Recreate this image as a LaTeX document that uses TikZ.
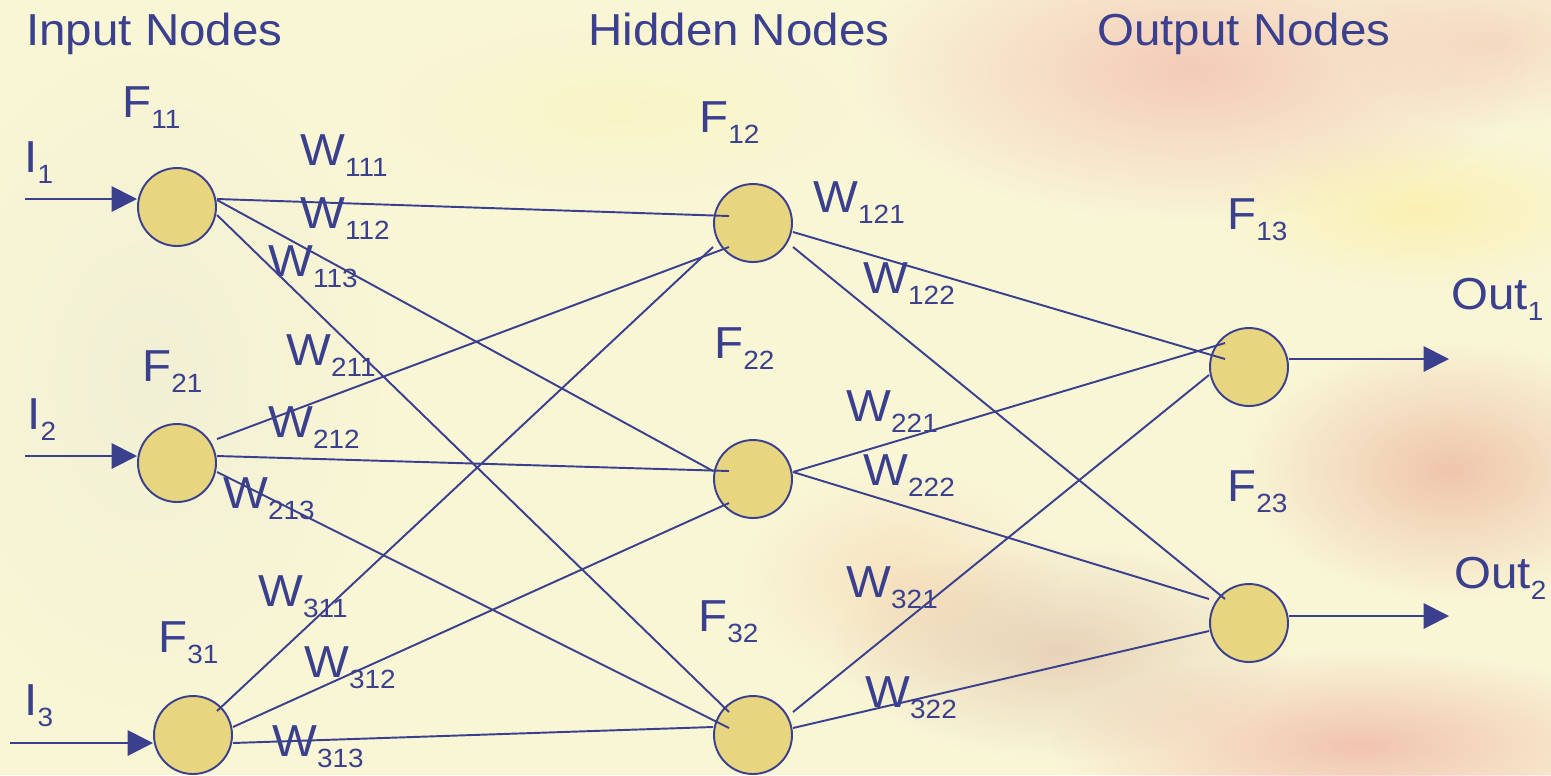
\documentclass[tikz,border=0pt]{standalone}
\usepackage{fontspec}
\setmainfont[FakeStretch=1.06]{Liberation Sans}
\usetikzlibrary{arrows.meta,fadings}

\definecolor{ink}{RGB}{58,64,142}
\definecolor{cellfill}{RGB}{232,213,127}
\definecolor{paper}{RGB}{249,246,214}

\tikzfading[name=softedge, inner color=transparent!0, outer color=transparent!100]

% letter with a lowered index, as in W_{111}
\newcommand{\wlab}[2]{#1\raisebox{-6.6pt}{\fontsize{15pt}{15pt}\selectfont #2}}

\begin{document}
\begin{tikzpicture}[x=0.02cm,y=-0.02cm,
  neuron/.style={circle,draw=ink,fill=cellfill,line width=1.1pt,minimum size=1.56cm,inner sep=0pt},
  link/.style={draw=ink,line width=1.1pt},
  feed/.style={link,-{Triangle[length=14.5pt,width=14.5pt]}},
  lab/.style={anchor=base west,inner sep=0pt,text=ink,font=\fontsize{25.5pt}{25.5pt}\selectfont},
  blob/.style={path fading=softedge}]

\useasboundingbox (0,0) rectangle (1551,775);

% painted backdrop
\begin{scope}
\clip (0,0) rectangle (1551,775);
\fill[paper] (0,0) rectangle (1551,775);
\fill[blob,color={rgb,255:red,226;green,226;blue,210},opacity=0.3] (150,380) ellipse [x radius=230, y radius=330];
\fill[blob,color={rgb,255:red,252;green,242;blue,170},opacity=0.35] (620,110) ellipse [x radius=240, y radius=90];
\fill[blob,color={rgb,255:red,238;green,150;blue,150},opacity=0.45] (1190,70) ellipse [x radius=340, y radius=150];
\fill[blob,color={rgb,255:red,240;green,170;blue,160},opacity=0.35] (1500,40) ellipse [x radius=160, y radius=90];
\fill[blob,color={rgb,255:red,252;green,236;blue,150},opacity=0.55] (1420,210) ellipse [x radius=200, y radius=80];
\fill[blob,color={rgb,255:red,225;green,125;blue,110},opacity=0.4] (1450,470) ellipse [x radius=210, y radius=130];
\fill[blob,color={rgb,255:red,240;green,180;blue,140},opacity=0.3] (900,580) ellipse [x radius=160, y radius=110];
\fill[blob,color={rgb,255:red,200;green,145;blue,130},opacity=0.35] (1060,650) ellipse [x radius=230, y radius=110];
\fill[blob,color={rgb,255:red,232;green,135;blue,130},opacity=0.45] (1360,745) ellipse [x radius=310, y radius=95];
\end{scope}

% layer headings
\node[lab] (tin)  at (26,45)   {Input Nodes};
\node[lab] (thid) at (588,45)  {Hidden Nodes};
\node[lab] (tout) at (1097,45) {Output Nodes};

% neurons
\node[neuron] (i1) at (177,207) {};
\node[neuron] (i2) at (177,463) {};
\node[neuron] (i3) at (193,735) {};
\node[neuron] (h1) at (753,223) {};
\node[neuron] (h2) at (753,479) {};
\node[neuron] (h3) at (753,735) {};
\node[neuron] (o1) at (1249,367) {};
\node[neuron] (o2) at (1249,623) {};

% external inputs and outputs
\coordinate (src1) at (25,199);
\coordinate (src2) at (25,456);
\coordinate (src3) at (10,743);
\coordinate (dst1) at (1449,359);
\coordinate (dst2) at (1449,616);
\draw[feed] (src1) -- ([shift={(-40,-8)}]i1.center);
\draw[feed] (src2) -- ([shift={(-40,-7)}]i2.center);
\draw[feed] (src3) -- ([shift={(-40,8)}]i3.center);
\draw[feed] ([shift={(40,-8)}]o1.center) -- (dst1);
\draw[feed] ([shift={(40,-7)}]o2.center) -- (dst2);

% input -> hidden weights
\draw[link] ([shift={(40,-8)}]i1.center) -- ([shift={(-24,-7)}]h1.center);
\draw[link] ([shift={(40,-7)}]i1.center) -- ([shift={(-40,-8)}]h2.center);
\draw[link] ([shift={(40,8)}]i1.center)  -- ([shift={(-24,-23)}]h3.center);
\draw[link] ([shift={(40,-24)}]i2.center) -- ([shift={(-24,24)}]h1.center);
\draw[link] ([shift={(40,-7)}]i2.center)  -- ([shift={(-24,-8)}]h2.center);
\draw[link] ([shift={(40,9)}]i2.center)   -- ([shift={(-24,-7)}]h3.center);
\draw[link] ([shift={(24,-24)}]i3.center) -- ([shift={(-40,24)}]h1.center);
\draw[link] ([shift={(40,-8)}]i3.center)  -- ([shift={(-24,24)}]h2.center);
\draw[link] ([shift={(40,8)}]i3.center)   -- ([shift={(-40,-8)}]h3.center);

% hidden -> output weights
\draw[link] ([shift={(40,9)}]h1.center)   -- ([shift={(-24,-8)}]o1.center);
\draw[link] ([shift={(40,24)}]h1.center)  -- ([shift={(-24,-24)}]o2.center);
\draw[link] ([shift={(40,-7)}]h2.center)  -- ([shift={(-24,-24)}]o1.center);
\draw[link] ([shift={(40,-7)}]h2.center)  -- ([shift={(-40,-24)}]o2.center);
\draw[link] ([shift={(40,-23)}]h3.center) -- ([shift={(-40,8)}]o1.center);
\draw[link] ([shift={(40,-7)}]h3.center)  -- ([shift={(-40,8)}]o2.center);

% node functions
\node[lab] (f11) at (122,117)  {\wlab{F}{11}};
\node[lab] (f21) at (142,381)  {\wlab{F}{21}};
\node[lab] (f31) at (158,652)  {\wlab{F}{31}};
\node[lab] (f12) at (699,132)  {\wlab{F}{12}};
\node[lab] (f22) at (714,358)  {\wlab{F}{22}};
\node[lab] (f32) at (698,631)  {\wlab{F}{32}};
\node[lab] (f13) at (1227,229) {\wlab{F}{13}};
\node[lab] (f23) at (1227,501) {\wlab{F}{23}};

% input and output names
\node[lab] (in1) at (24,172)    {\wlab{I}{1}};
\node[lab] (in2) at (27,429)    {\wlab{I}{2}};
\node[lab] (in3) at (24,715)    {\wlab{I}{3}};
\node[lab] (out1) at (1451,309) {\wlab{Out}{1}};
\node[lab] (out2) at (1454,588) {\wlab{Out}{2}};

% weights
\node[lab] (w111) at (300,165) {\wlab{W}{111}};
\node[lab] (w112) at (300,228) {\wlab{W}{112}};
\node[lab] (w113) at (268,276) {\wlab{W}{113}};
\node[lab] (w211) at (286,365) {\wlab{W}{211}};
\node[lab] (w212) at (268,437) {\wlab{W}{212}};
\node[lab] (w213) at (223,508) {\wlab{W}{213}};
\node[lab] (w311) at (258,606) {\wlab{W}{311}};
\node[lab] (w312) at (304,677) {\wlab{W}{312}};
\node[lab] (w313) at (272,756) {\wlab{W}{313}};
\node[lab] (w121) at (813,212) {\wlab{W}{121}};
\node[lab] (w122) at (863,293) {\wlab{W}{122}};
\node[lab] (w221) at (846,421) {\wlab{W}{221}};
\node[lab] (w222) at (863,485) {\wlab{W}{222}};
\node[lab] (w321) at (846,597) {\wlab{W}{321}};
\node[lab] (w322) at (865,707) {\wlab{W}{322}};
\end{tikzpicture}
\end{document}
